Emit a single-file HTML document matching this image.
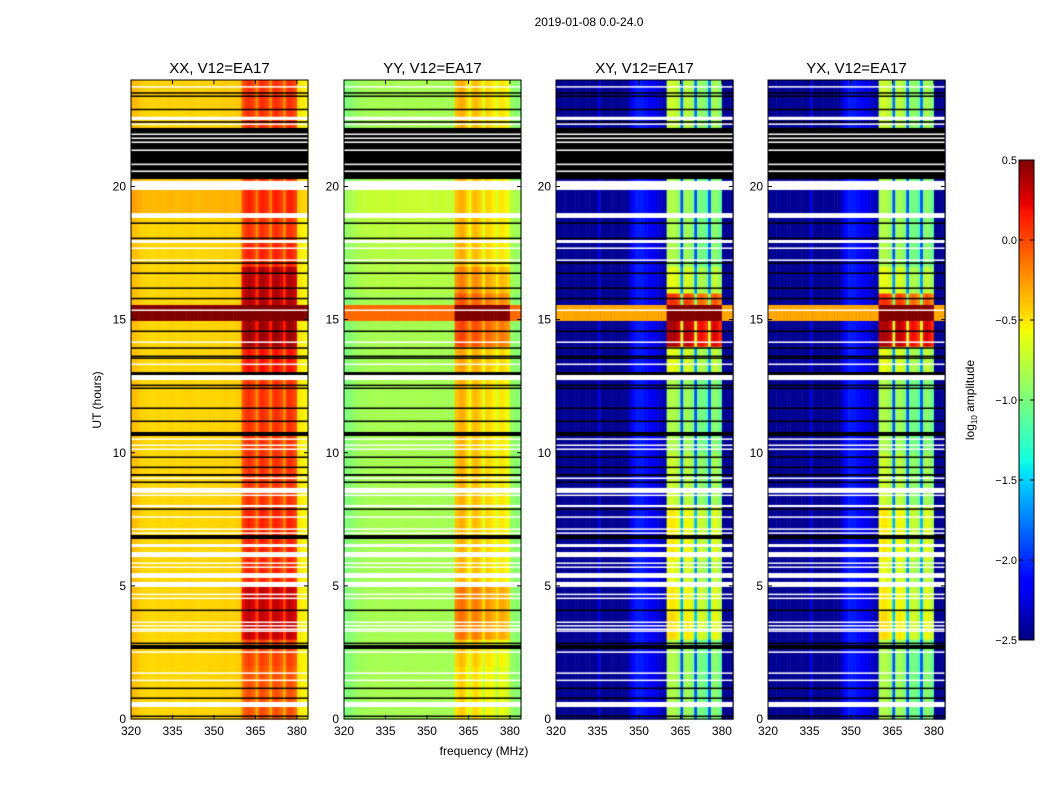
<!DOCTYPE html>
<html><head><meta charset="utf-8">
<style>
body{margin:0;background:#fff;}
#wrap{position:relative;width:1050px;height:800px;overflow:hidden;font-family:"Liberation Sans",sans-serif;}
canvas,svg{position:absolute;left:0;top:0;}
</style></head>
<body>
<div id="wrap">
<canvas id="cv" width="1050" height="800"></canvas>
<svg id="sv" width="1050" height="800"></svg>
</div>
<script>
// ---------- data ----------
const panelTitles = ["XX, V12=EA17","YY, V12=EA17","XY, V12=EA17","YX, V12=EA17"];
const xTicks = [320,335,350,365,380];
const yTicks = [0,5,10,15,20];
const cbTicks = [0.5,0.0,-0.5,-1.0,-1.5,-2.0,-2.5];
// channel profiles (1 MHz bins, 320..383), log10 amplitude
const profXX = [-0.36,-0.38,-0.4,-0.42,-0.45,-0.45,-0.45,-0.46,-0.46,-0.45,-0.45,-0.46,-0.46,-0.45,-0.44,-0.45,-0.46,-0.46,-0.45,-0.45,-0.44,-0.44,-0.45,-0.46,-0.46,-0.45,-0.45,-0.45,-0.44,-0.44,-0.45,-0.45,-0.44,-0.43,-0.43,-0.44,-0.44,-0.43,-0.42,-0.42,-0.05,0.05,0.1,0.05,0.0,-0.2,0.05,0.1,0.05,0.0,-0.2,0.05,0.1,0.05,0.0,-0.2,0.05,0.1,0.05,0.0,-0.5,-0.52,-0.55,-0.55];
const profYY = [-1.0,-0.98,-0.95,-0.93,-0.9,-0.88,-0.87,-0.86,-0.86,-0.85,-0.85,-0.85,-0.84,-0.84,-0.84,-0.84,-0.85,-0.85,-0.85,-0.85,-0.84,-0.84,-0.84,-0.84,-0.84,-0.84,-0.84,-0.84,-0.84,-0.84,-0.84,-0.84,-0.85,-0.85,-0.85,-0.85,-0.85,-0.86,-0.86,-0.86,-0.4,-0.35,-0.3,-0.35,-0.45,-0.6,-0.4,-0.35,-0.4,-0.45,-0.65,-0.45,-0.45,-0.5,-0.55,-0.65,-0.5,-0.5,-0.55,-0.6,-0.9,-0.93,-0.95,-0.97];
const profXY = [-2.45,-2.45,-2.45,-2.45,-2.45,-2.45,-2.45,-2.45,-2.45,-2.45,-2.45,-2.45,-2.45,-2.45,-2.45,-2.25,-2.45,-2.45,-2.45,-2.45,-2.45,-2.45,-2.45,-2.45,-2.45,-2.45,-2.35,-2.2,-2.1,-2.05,-2.05,-2.05,-2.1,-2.15,-2.2,-2.2,-2.25,-2.3,-2.35,-2.35,-0.85,-0.8,-0.8,-0.85,-0.95,-1.9,-0.9,-0.85,-0.9,-1.0,-1.9,-1.05,-1.0,-1.05,-1.15,-1.9,-1.0,-0.9,-1.0,-1.1,-2.45,-2.45,-2.45,-2.45];
const profYX = profXY.slice();
// hourly shifts (hour 0..23): outside-band, inside-band
const baseXX = [0,0,0,0,0,0,0,0,0,0,0,0,0,0,0,0,0,0,0,0.1,0.05,0,0,0.02];
const bandXX = [-0.1,-0.1,-0.05,0.25,0.25,0.05,0.05,0.05,0.0,0.0,0.0,0.0,0.0,0.1,0.35,0.3,0.3,0.05,0.0,0.05,0,0,0.0,0.0];
const baseYY = [0,0,0,0,0,0,0,0,0,0,0,0,0,0,0,0,0.05,0.05,0.08,0.12,0,0,0,0];
const bandYY = [-0.1,-0.1,-0.05,0.2,0.2,0,0,0,0,0,0,0,0,0.05,0.35,0.3,0.15,0,0,0,0,0,0,0];
const baseXY = [0,0,0,0,0,0,0,0,0,0,0,0,0,0,0,0,0,0,0,0,0,0,0,0];
const bandXY = [0,0,0,0.35,0.3,0.2,0.3,0.3,0.1,0.1,0.0,0.0,0.0,0.2,1.2,0.9,0.2,0.0,0.0,0.0,0,0,0.1,0.1];
const baseYX = baseXY.slice();
const bandYX = bandXY.slice();
// saturated interval [start,end] and level outside/inside band
const satRange = [14.95,15.55];
const satOut = [0.5,-0.1,-0.3,-0.3];
const satIn = [0.5,0.5,0.5,0.5];
// flagged rows (hours)
const blackRows = [[23.5,23.54],[23.38,23.42],[22.88,22.92],[22.41,22.45],[20.28,22.2],[18.61,18.65],[18.04,18.08],[17.11,17.15],[16.73,16.77],[16.17,16.21],[15.78,15.82],[14.55,14.59],[13.92,13.96],[13.61,13.65],[13.54,13.58],[12.92,13.03],[12.52,12.56],[12.41,12.45],[11.66,11.7],[11.17,11.21],[10.63,10.78],[9.82,9.86],[9.44,9.48],[9.13,9.2],[8.88,8.92],[7.87,7.91],[6.76,6.91],[4.07,4.11],[2.83,2.87],[2.63,2.78],[1.14,1.18],[0.77,0.81],[0.09,0.13]];
const whiteRows = [[23.73,23.77],[22.5,22.62],[22.33,22.37],[21.95,21.99],[21.8,21.84],[21.65,21.69],[21.35,21.39],[20.82,20.86],[20.56,20.6],[19.87,20.21],[18.82,19.0],[17.88,17.99],[17.67,17.71],[17.22,17.26],[15.34,15.38],[14.14,14.18],[13.31,13.35],[12.73,12.92],[10.5,10.54],[10.27,10.31],[10.12,10.16],[9.03,9.07],[8.49,8.68],[8.39,8.43],[7.96,8.04],[7.57,7.61],[7.12,7.16],[6.97,7.01],[6.46,6.57],[6.08,6.27],[5.84,5.88],[5.69,5.73],[5.3,5.48],[4.96,5.15],[4.67,4.71],[4.52,4.56],[3.62,3.66],[3.49,3.53],[3.36,3.4],[3.29,3.33],[2.5,2.54],[1.71,1.75],[1.44,1.48],[0.45,0.64]];

const profiles=[profXX,profYY,profXY,profYX];
const bases=[baseXX,baseYY,baseXY,baseYX];
const bands=[bandXX,bandYY,bandXY,bandYX];

// ---------- layout ----------
const panelX=[131,344,556,768], PW=177, PT=80, PB=719;
const fMin=320,fMax=384,tMin=0,tMax=24;
const vmin=-2.5,vmax=0.5;
function xs(p,f){return panelX[p]+(f-fMin)/(fMax-fMin)*PW;}
function ys(h){return PB-(h-tMin)/(tMax-tMin)*(PB-PT);}
const JR=[[0,0],[0.35,0],[0.66,1],[0.89,1],[1,0.5]];
const JG=[[0,0],[0.125,0],[0.375,1],[0.64,1],[0.91,0],[1,0]];
const JB=[[0,0.5],[0.11,1],[0.34,1],[0.65,0],[1,0]];
function seg(s,t){for(let i=1;i<s.length;i++){if(t<=s[i][0]){const a=s[i-1],b=s[i];return a[1]+(b[1]-a[1])*(t-a[0])/(b[0]-a[0]);}}return s[s.length-1][1];}
function jet(v){let t=(v-vmin)/(vmax-vmin);t=Math.max(0,Math.min(1,t));
 return `rgb(${Math.round(seg(JR,t)*255)},${Math.round(seg(JG,t)*255)},${Math.round(seg(JB,t)*255)})`;}
const inBand=c=>c>=40&&c<60;

const ctx=document.getElementById('cv').getContext('2d');
for(let p=0;p<4;p++){
 const prof=profiles[p];
 for(let h=0;h<24;h++){
  for(let c=0;c<prof.length;c++){
   const v=prof[c]+(inBand(c)?bands[p][h]:bases[p][h]);
   ctx.fillStyle=jet(v);
   const x0=xs(p,fMin+c),x1=xs(p,fMin+c+1);
   ctx.fillRect(x0,ys(h+1),x1-x0+0.5,ys(h)-ys(h+1)+0.5);
  }
 }
 for(let c=0;c<prof.length;c++){
  ctx.fillStyle=jet(inBand(c)?satIn[p]:satOut[p]);
  const x0=xs(p,fMin+c),x1=xs(p,fMin+c+1);
  ctx.fillRect(x0,ys(satRange[1]),x1-x0+0.5,ys(satRange[0])-ys(satRange[1]));
 }
 ctx.fillStyle='#000';
 blackRows.forEach(r=>{const y0=ys(r[1]),y1=ys(r[0]);ctx.fillRect(panelX[p],y0,PW,Math.max(1.5,y1-y0));});
 ctx.fillStyle='#fff';
 whiteRows.forEach(r=>{const y0=ys(r[1]),y1=ys(r[0]);ctx.fillRect(panelX[p],y0,PW,Math.max(1.5,y1-y0));});
}
const cbX=1019,cbW=15,cbT=160,cbB=640;
for(let y=cbT;y<cbB;y++){ctx.fillStyle=jet(vmax-(y-cbT+0.5)/(cbB-cbT)*(vmax-vmin));ctx.fillRect(cbX,y,cbW,1);}

// ---------- svg overlay ----------
const NS='http://www.w3.org/2000/svg', sv=document.getElementById('sv');
function mk(tag,attrs,txt){const e=document.createElementNS(NS,tag);for(const k in attrs)e.setAttribute(k,attrs[k]);if(txt!==undefined)e.textContent=txt;sv.appendChild(e);return e;}
let e;
e=mk('text',{x:589,y:26,'text-anchor':'middle','font-size':12,fill:'#000'},'2019-01-08 0.0-24.0');


for(let p=0;p<4;p++){
 e=mk('rect',{x:panelX[p],y:PT,width:PW,height:PB-PT,fill:'none',stroke:'#000','stroke-width':1});
 
 
 e=mk('text',{x:panelX[p]+PW/2,y:73,'text-anchor':'middle','font-size':15,fill:'#000'},panelTitles[p]);
 
 
 xTicks.forEach(t=>{const x=xs(p,t);
  e=mk('line',{x1:x,x2:x,y1:PB,y2:PB-4,stroke:'#000'});
  
  
  e=mk('line',{x1:x,x2:x,y1:PT,y2:PT+4,stroke:'#000'});
  
  
  e=mk('text',{x:x,y:PB+16,'text-anchor':'middle','font-size':12,fill:'#000'},t);
  
  
 });
 yTicks.forEach(t=>{const y=ys(t);
  e=mk('line',{x1:panelX[p],x2:panelX[p]+4,y1:y,y2:y,stroke:'#000'});
  
  
  e=mk('line',{x1:panelX[p]+PW,x2:panelX[p]+PW-4,y1:y,y2:y,stroke:'#000'});
  
  
  e=mk('text',{x:panelX[p]-5,y:y+4,'text-anchor':'end','font-size':12,fill:'#000'},t);
  
  
 });
}
e=mk('text',{x:484,y:755,'text-anchor':'middle','font-size':12,fill:'#000'},'frequency (MHz)');


e=mk('text',{x:0,y:0,'text-anchor':'middle','font-size':12,fill:'#000',transform:'translate(101,400) rotate(-90)'},'UT (hours)');


e=mk('rect',{x:cbX,y:cbT,width:cbW,height:cbB-cbT,fill:'none',stroke:'#000'});


cbTicks.forEach(t=>{const y=cbT+(vmax-t)/(vmax-vmin)*(cbB-cbT);
 e=mk('line',{x1:cbX+cbW,x2:cbX+cbW-4,y1:y,y2:y,stroke:'#000'});
 
 
 e=mk('line',{x1:cbX,x2:cbX+4,y1:y,y2:y,stroke:'#000'});
 
 
 e=mk('text',{x:cbX-2,y:y+4,'text-anchor':'end','font-size':11,fill:'#000'},(t<0?'\u2212':'')+Math.abs(t).toFixed(1));
 
 
});
e=mk('text',{x:0,y:0,'text-anchor':'middle','font-size':12,fill:'#000',transform:'translate(974,400) rotate(-90)'});


e.innerHTML='log<tspan font-size="8" dy="3">10</tspan><tspan dy="-3"> amplitude</tspan>';
</script>
</body></html>
